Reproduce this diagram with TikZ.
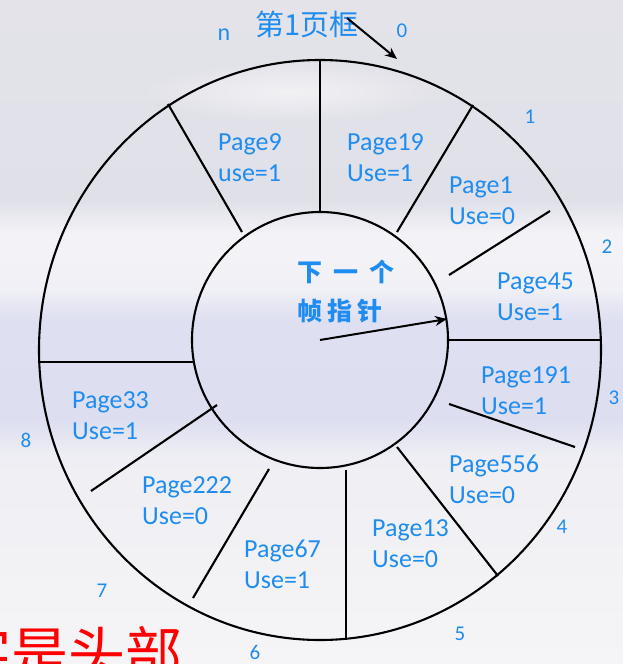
\documentclass[tikz,border=0pt]{standalone}
\usepackage{fontspec}
\setmainfont{Carlito}
\newfontfamily\cjk{Noto Sans CJK SC}
\usetikzlibrary{arrows.meta,fadings}

\definecolor{lblue}{RGB}{30,140,240}
\definecolor{bgA}{RGB}{227,227,233}
\definecolor{bgB}{RGB}{224,224,233}
\definecolor{bgC}{RGB}{243,243,247}
\definecolor{bgD}{RGB}{240,240,246}
\definecolor{bgE}{RGB}{222,223,241}
\definecolor{bgF}{RGB}{221,222,240}
\definecolor{bgG}{RGB}{238,238,244}
\definecolor{bgH}{RGB}{242,242,245}
\definecolor{bgI}{RGB}{245,245,247}

% soft backdrop, light grey at the top, a white band, a lavender band, pale below
\pgfdeclareverticalshading{backdrop}{100bp}{%
  color(0bp)=(bgI); color(25bp)=(bgI); color(32.8bp)=(bgH);
  color(40.7bp)=(bgG); color(43.4bp)=(bgF); color(50.9bp)=(bgE);
  color(53.2bp)=(bgD); color(57.3bp)=(bgC); color(59.9bp)=(bgB);
  color(75bp)=(bgA); color(100bp)=(bgA)}

\tikzfading[name=glowfade, inner color=transparent!0, outer color=transparent!100]

\begin{document}
\begin{tikzpicture}[x=1pt,y=-1pt,
  ring/.style={line width=2.1pt,black},
  spoke/.style={line width=2.1pt,black},
  % anchored on the baseline of the second line
  pagelbl/.style={text=lblue,font=\fontsize{26}{31.5}\selectfont,align=left,anchor=base west,inner sep=0pt},
  idx/.style={text=lblue,font=\fontsize{21}{24}\selectfont,inner sep=0pt},
  ptr/.style={line width=2pt,-{Stealth[length=12pt,width=10pt]}}]

\useasboundingbox (0,0) rectangle (623,664);
\shade[shading=backdrop] (0,0) rectangle (623,664);
\fill[white,opacity=0.55,path fading=glowfade] (290,92) ellipse [x radius=150, y radius=30];

% the ring of page frames
\draw[ring] (320,350) ellipse [x radius=281, y radius=290];
\draw[ring] (320,340) circle [radius=128];

% separators between frames
\draw[spoke] (320,60) -- (320,211);
\draw[spoke] (168,104) -- (242,232);
\draw[spoke] (473,105) -- (397,232);
\draw[spoke] (550,211) -- (449,275);
\draw[spoke] (448,340) -- (601,340);
\draw[spoke] (449,404) -- (575,447);
\draw[spoke] (397,447) -- (498,576);
\draw[spoke] (346,470) -- (346,639);
\draw[spoke] (269,469) -- (193,598);
\draw[spoke] (217,405) -- (91,491);
\draw[spoke] (40,362) -- (193,362);

% frame contents
\node[pagelbl] (p9)   at (218,181.5) {Page9\\use=1};
\node[pagelbl] (p19)  at (347,181.5) {Page19\\Use=1};
\node[pagelbl] (p1)   at (449,224.5) {Page1\\Use=0};
\node[pagelbl] (p45)  at (497,320.5) {Page45\\Use=1};
\node[pagelbl] (p191) at (481,414.5) {Page191\\Use=1};
\node[pagelbl] (p556) at (449,503.5) {Page556\\Use=0};
\node[pagelbl] (p13)  at (372,567.5) {Page13\\Use=0};
\node[pagelbl] (p67)  at (244,588.5) {Page67\\Use=1};
\node[pagelbl] (p222) at (142,524.5) {Page222\\Use=0};
\node[pagelbl] (p33)  at (72,439.5)  {Page33\\Use=1};

% frame numbers
\node[idx,font=\fontsize{24}{26}\selectfont] (in) at (224,35) {n};
\node[idx] (i0) at (402,31)  {0};
\node[idx] (i1) at (530,117) {1};
\node[idx] (i2) at (607,247) {2};
\node[idx] (i3) at (614,398) {3};
\node[idx] (i4) at (562,527) {4};
\node[idx] (i5) at (460,634) {5};
\node[idx] (i6) at (255,652) {6};
\node[idx] (i7) at (102,591) {7};
\node[idx] (i8) at (26,440)  {8};

% first frame marker
\node[text=lblue,inner sep=0pt,font=\cjk\fontsize{29}{32}\selectfont] (first) at (307,24) {第1页框};
\coordinate (firstS) at (347,18);
\coordinate (firstE) at (397,59);
\draw[ptr] (firstS) -- (firstE);

% next-frame pointer
\node[text=lblue,inner sep=0pt,align=left,anchor=west,
      font=\cjk\bfseries\fontsize{25}{39}\selectfont] (nxt) at (297,292)
  {下\hspace{11pt}一\hspace{11pt}个\\帧\hspace{5pt}指\hspace{5pt}针};
\coordinate (hub) at (320,340);
\coordinate (hand) at (447,319);
\draw[ptr] (hub) -- (hand);

% heading fragment at the lower edge
\node[anchor=base west,inner sep=0pt,text=red,font=\cjk\fontsize{57}{60}\selectfont] (head) at (-46,674) {字是头部};
\end{tikzpicture}
\end{document}
